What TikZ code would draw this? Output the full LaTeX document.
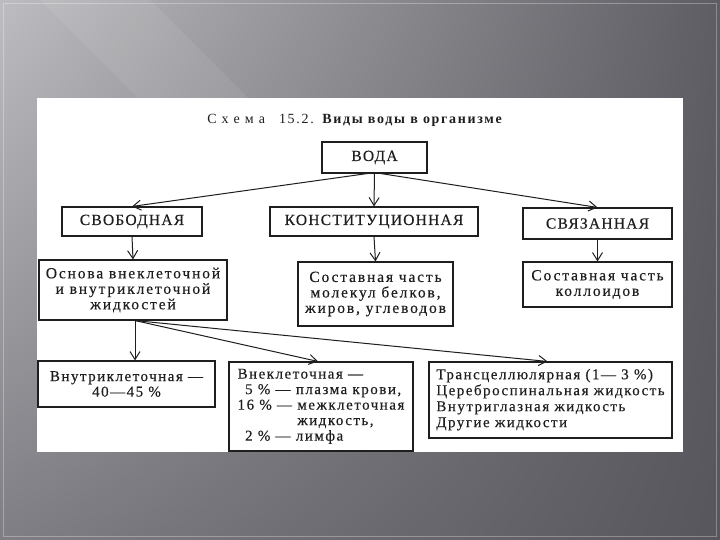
\documentclass[tikz,border=0pt]{standalone}
\usepackage{fontspec}
\setmainfont{Liberation Serif}
\newfontfamily\fcaps[LetterSpace=8,FakeBold=0.3]{Liberation Serif}
\newfontfamily\fmid[LetterSpace=12,FakeBold=0.3]{Liberation Serif}
\newfontfamily\flow[LetterSpace=10,FakeBold=0.3]{Liberation Serif}
\newfontfamily\ftitle[LetterSpace=12]{Liberation Serif}
\usetikzlibrary{arrows.meta,shadings}
\definecolor{ink}{HTML}{1E1E1E}
\definecolor{bgA}{HTML}{BDBDC1}
\definecolor{bgB}{HTML}{5E5D63}
\definecolor{bgC}{HTML}{7F7E84}
\definecolor{bgD}{HTML}{57565C}
\begin{document}
\begin{tikzpicture}[x=1pt,y=-1pt,
  box/.style={draw=ink, line width=1.1pt, inner sep=0pt, align=center, text=ink},
  capsf/.style={font=\fcaps\fontsize{15.5}{16}\selectfont},
  midf/.style={font=\fmid\fontsize{15.5}{15.5}\selectfont},
  lowf/.style={font=\flow\fontsize{15}{15.5}\selectfont},
  arr/.style={draw=ink, line width=1pt, -{Straight Barb[length=8pt,width=10pt]}}]
\useasboundingbox (0,0) rectangle (720,540);
% slide background
\shade[upper left=bgA, upper right=bgB, lower left=bgC, lower right=bgD] (0,0) rectangle (720,540);
\fill[white, opacity=0.07] (40,0) -- (150,0) -- (300,150) -- (190,150) -- cycle;
\draw[white, opacity=0.3, line width=0.8pt] (3.5,3.5) rectangle (716.5,536.5);
% white panel
\fill[white] (37,98) rectangle (683,452);
% title
\node[text=ink, inner sep=0pt, font=\ftitle\fontsize{14}{15}\selectfont] (title) at (355.5,120)
  {С\hspace{5pt}х\hspace{5pt}е\hspace{5pt}м\hspace{5pt}а\hspace{14pt}15.2. \textbf{Виды воды в организме}};
% level 1
\node[box, capsf, minimum width=105pt, minimum height=31pt] (voda) at (374.5,157.5) {ВОДА};
% level 2
\node[box, capsf, minimum width=140pt, minimum height=29pt] (svob) at (132,221.5) {СВОБОДНАЯ};
\node[box, capsf, minimum width=208pt, minimum height=29pt] (konst) at (374,221.5) {КОНСТИТУЦИОННАЯ};
\node[box, capsf, minimum width=149pt, minimum height=31pt] (svyaz) at (597.5,223.5) {СВЯЗАННАЯ};
% level 3
\node[box, midf, minimum width=188pt, minimum height=60pt] (osn) at (133,290)
  {Основа внеклеточной\\и внутриклеточной\\жидкостей};
\node[box, midf, minimum width=155pt, minimum height=64pt] (sost) at (375.5,294)
  {Составная часть\\молекул белков,\\жиров, углеводов};
\node[box, midf, minimum width=149pt, minimum height=45pt] (koll) at (597.5,284.5)
  {Составная часть\\коллоидов};
% level 4
\node[box, lowf, minimum width=177pt, minimum height=46pt] (vnutri) at (126.5,384)
  {Внутриклеточная —\\40—45 \%};
\node[box, lowf, minimum width=184pt, minimum height=89pt] (vnekl) at (321,406.5)
  {\begin{tabular}{@{}l@{}}Внеклеточная —\\
   \phantom{1}5 \% — плазма крови,\\
   16 \% — межклеточная\\
   \phantom{16 \% — }жидкость,\\
   \phantom{1}2 \% — лимфа\end{tabular}};
\node[box, lowf, minimum width=243pt, minimum height=76pt] (trans) at (550.5,400)
  {\renewcommand{\arraystretch}{1.03}\begin{tabular}{@{}l@{}}Трансцеллюлярная (1— 3 \%)\\
   Цереброспинальная жидкость\\
   Внутриглазная жидкость\\
   Другие жидкости\end{tabular}};
% connectors
\coordinate (vo) at ([yshift=1pt]voda.south);
\draw[arr] (vo) -- (svob.north);
\draw[arr] (vo) -- (konst.north);
\draw[arr] (vo) -- (svyaz.north);
\draw[arr] (svob.south) -- (osn.north);
\draw[arr] (konst.south) -- (sost.north);
\draw[arr] (svyaz.south) -- (koll.north);
\coordinate (os) at ([xshift=2pt]osn.south);
\draw[arr] (os) -- (os |- vnutri.north);
\draw[arr] (os) -- ([xshift=-3pt]vnekl.north);
\draw[arr] (os) -- ([xshift=-3pt]trans.north);
\end{tikzpicture}
\end{document}
